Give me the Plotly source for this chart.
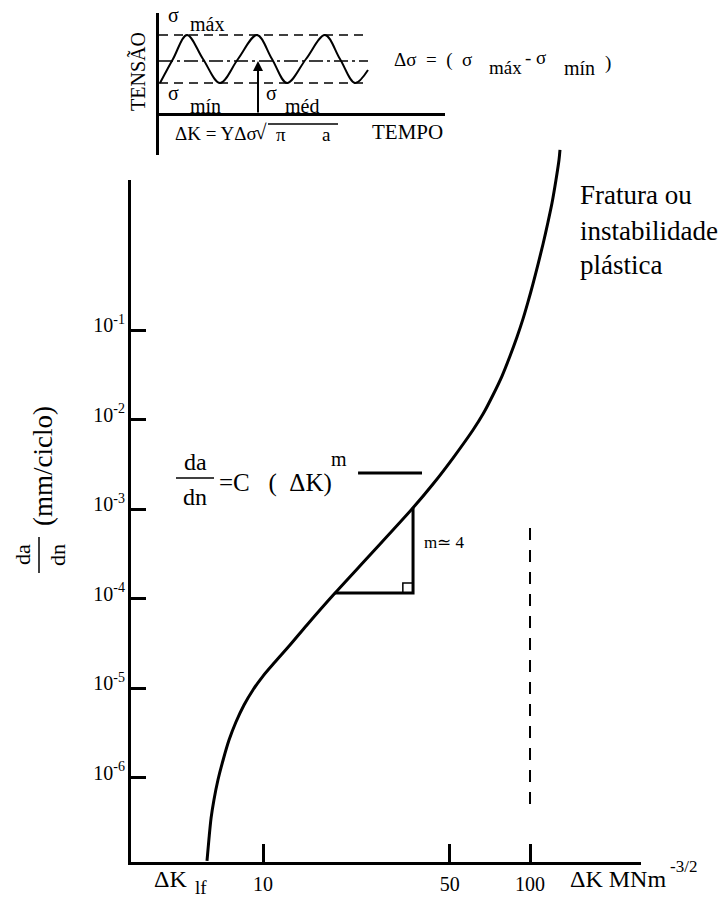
import plotly.graph_objects as go

W, H = 720, 901
FONT = "Liberation Serif"

# ---------------- data ----------------
# main curve: crack growth rate da/dn (mm/ciclo) vs ΔK (MN m^-3/2)
dk_curve = [6.17, 6.28, 6.39, 6.55, 6.78, 7.09, 7.46, 7.92, 8.49, 9.17, 10.0, 11.09,
            12.62, 14.61, 18.61, 25.16, 36.47, 43.33, 51.48, 61.16, 66.68, 72.67,
            78.56, 84.17, 89.39, 94.14, 98.29, 102.6, 107.2, 111.9, 116.8, 120.9,
            125.1, 128.4, 129.5]
dadn_curve = [1.17e-7, 2.11e-7, 3.52e-7, 5.61e-7, 9.38e-7, 1.57e-6, 2.62e-6, 4.17e-6,
              6.46e-6, 9.51e-6, 1.36e-5, 1.95e-5, 3.02e-5, 5.06e-5, 1.15e-4, 3.06e-4,
              1.03e-3, 1.90e-3, 3.71e-3, 7.63e-3, 1.15e-2, 1.88e-2, 3.06e-2, 5.12e-2,
              8.35e-2, 0.133, 0.206, 0.327, 0.546, 0.914, 1.61, 2.62, 4.74, 7.93, 10.3]

# slope triangle (m ≃ 4)
tri_dk = [18.61, 36.47, 36.47]
tri_dadn = [1.15e-4, 1.15e-4, 1.03e-3]
sq_dk = [33.4, 33.4, 36.47]
sq_dadn = [1.15e-4, 1.49e-4, 1.49e-4]

# bar next to the Paris-law equation
eq_bar_dk = [22.7, 39.4]
eq_bar_dadn = [2.52e-3, 2.52e-3]

# dashed line at ΔK = 100
dash_dk = [100, 100]
dash_dadn = [6.14e-4, 4.93e-7]

# axis ticks
x_tickvals = [10, 50, 100]
x_ticktext = ["10", "50", "100"]
y_tickvals = [1e-1, 1e-2, 1e-3, 1e-4, 1e-5, 1e-6]
y_ticktext = ["10<sup>-1</sup>", "10<sup>-2</sup>", "10<sup>-3</sup>",
              "10<sup>-4</sup>", "10<sup>-5</sup>", "10<sup>-6</sup>"]

# inset: stress (tensão) vs time (tempo)
t_wave = [1, 14, 28, 44, 61, 79, 98, 113, 128, 147, 166, 181, 196, 209]
s_wave = [31, 55, 79, 55, 31, 55, 79, 55, 31, 55, 79, 55, 31, 44]
s_max, s_min, s_med = 79, 31, 53
t_lines_end = 206
t_med_end = 209
t_arrow = 99

# ---------------- figure ----------------
fig = go.Figure()

def px2paper(px, py):
    return px / W, 1 - py / H

blk = "black"

fig.add_trace(go.Scatter(x=dk_curve, y=dadn_curve, mode="lines",
                         line=dict(color=blk, width=3, shape="spline", smoothing=0.8),
                         hoverinfo="skip"))
fig.add_trace(go.Scatter(x=tri_dk, y=tri_dadn, mode="lines",
                         line=dict(color=blk, width=3), hoverinfo="skip"))
fig.add_trace(go.Scatter(x=sq_dk, y=sq_dadn, mode="lines",
                         line=dict(color=blk, width=1.5), hoverinfo="skip"))
fig.add_trace(go.Scatter(x=eq_bar_dk, y=eq_bar_dadn, mode="lines",
                         line=dict(color=blk, width=3), hoverinfo="skip"))
fig.add_trace(go.Scatter(x=dash_dk, y=dash_dadn, mode="lines",
                         line=dict(color=blk, width=2, dash="12px,10px"), hoverinfo="skip"))

# inset traces
fig.add_trace(go.Scatter(x=[0, t_lines_end], y=[s_max, s_max], mode="lines", xaxis="x2", yaxis="y2",
                         line=dict(color=blk, width=1.5, dash="9px,6px"), hoverinfo="skip"))
fig.add_trace(go.Scatter(x=[0, t_lines_end], y=[s_min, s_min], mode="lines", xaxis="x2", yaxis="y2",
                         line=dict(color=blk, width=1.5, dash="9px,6px"), hoverinfo="skip"))
fig.add_trace(go.Scatter(x=[0, t_med_end], y=[s_med, s_med], mode="lines", xaxis="x2", yaxis="y2",
                         line=dict(color=blk, width=1.5, dash="14px,4px,3px,4px"), hoverinfo="skip"))
fig.add_trace(go.Scatter(x=t_wave, y=s_wave, mode="lines", xaxis="x2", yaxis="y2",
                         line=dict(color=blk, width=2, shape="spline", smoothing=1.0), hoverinfo="skip"))

x0d, x1d = 128 / W, 641 / W
y0d, y1d = 1 - 862 / H, 1 - 145 / H

fig.update_layout(
    width=W, height=H, margin=dict(l=0, r=0, t=0, b=0),
    paper_bgcolor="white", plot_bgcolor="white", showlegend=False,
    xaxis=dict(domain=[x0d, x1d], type="log", range=[0.4944, 2.4157],
               showgrid=False, zeroline=False, showline=True, linecolor=blk, linewidth=3,
               ticks="inside", ticklen=18, tickwidth=3, tickcolor=blk,
               tickmode="array", tickvals=x_tickvals, ticktext=x_ticktext,
               tickfont=dict(family=FONT, size=20, color=blk), ticklabelstandoff=2,
               anchor="y"),
    yaxis=dict(domain=[y0d, y1d], type="log", range=[-6.944, 1.067],
               showgrid=False, zeroline=False, showline=False,
               ticks="inside", ticklen=18, tickwidth=3, tickcolor=blk,
               tickmode="array", tickvals=y_tickvals, ticktext=y_ticktext,
               tickfont=dict(family=FONT, size=20, color=blk), ticklabelshift=-5,
               ticklabelstandoff=2, anchor="x"),
    xaxis2=dict(domain=[159 / W, 445 / W], range=[0, 286], showgrid=False, zeroline=False,
                showline=False, showticklabels=False, ticks="", anchor="y2"),
    yaxis2=dict(domain=[1 - 155 / H, 1 - 13 / H], range=[-41, 101], showgrid=False,
                zeroline=True, zerolinecolor=blk, zerolinewidth=2.5,
                showline=True, linecolor=blk, linewidth=2.5, mirror=False,
                showticklabels=False, ticks="", anchor="x2"),
)

shapes = []
def pline(xa, ya, xb, yb, w):
    a = px2paper(xa, ya); b = px2paper(xb, yb)
    shapes.append(dict(type="line", xref="paper", yref="paper", x0=a[0], y0=a[1],
                       x1=b[0], y1=b[1], line=dict(color=blk, width=w)))

pline(129.5, 863.5, 129.5, 180, 3)      # main vertical axis
pline(176, 478, 214, 478, 1.5)          # equation fraction bar
pline(39, 537, 39, 573, 1.5)            # y-title fraction bar
pline(268, 124, 338, 124, 1.5)          # sqrt overline
fig.update_layout(shapes=shapes)

anns = []
def ann(text, px, py, size, xanchor="center", angle=0):
    x, y = px2paper(px, py)
    anns.append(dict(text=text, x=x, y=y, xref="paper", yref="paper", showarrow=False,
                     font=dict(family=FONT, size=size, color=blk),
                     xanchor=xanchor, yanchor="middle", textangle=angle))

NB = "\u00a0"
# inset labels
ann("σ", 173, 15, 20)
ann("máx", 188, 24, 20, "left")
ann("σ", 173, 93, 20)
ann("mín", 188, 106, 20, "left")
ann("σ", 271, 93, 20)
ann("méd", 283, 106, 20, "left")
ann("TENSÃO", 137, 72, 20, angle=-90)
ann("TEMPO", 407, 132, 21)
ann("ΔK = YΔσ", 173, 133, 19, "left")
ann("√", 261, 132, 21)
ann("π", 281, 135, 19)
ann("a", 326, 135, 19)
ann("Δσ" + NB * 2 + "=" + NB * 2 + "(" + NB * 2 + "σ", 392, 60, 19, "left")
ann("máx", 487, 68, 19, "left")
ann("-" + NB + "σ", 523, 58, 19, "left")
ann("mín", 562, 68, 20, "left")
ann(")", 603, 63, 19, "left")

# inset arrow (σ méd)
anns.append(dict(x=t_arrow, y=s_med, ax=t_arrow, ay=0, xref="x2", yref="y2",
                 axref="x2", ayref="y2", showarrow=True, arrowhead=2, arrowsize=1,
                 arrowwidth=2, arrowcolor=blk, standoff=0, text=""))

# main labels
ann("Fratura ou", 578, 195, 27, "left")
ann("instabilidade", 578, 231, 27, "left")
ann("plástica", 578, 265, 27, "left")
ann("da", 195, 462, 24)
ann("dn", 195, 497, 24)
ann("=C" + NB * 3 + "(" + NB * 2 + "ΔK)", 217, 483, 25, "left")
ann("m", 339, 459, 20)
ann("m≃ 4", 422, 542, 17, "left")
ann("da", 22, 555, 22, angle=-90)
ann("dn", 57, 555, 22, angle=-90)
ann("(mm/ciclo)", 43, 466, 27, angle=-90)
ann("ΔK", 170, 879, 24)
ann("lf", 201, 887, 19)
ann("ΔK MNm", 568, 879, 24, "left")
ann("-3/2", 668, 866, 17, "left")
fig.update_layout(annotations=anns)

fig.write_html("out.html")
